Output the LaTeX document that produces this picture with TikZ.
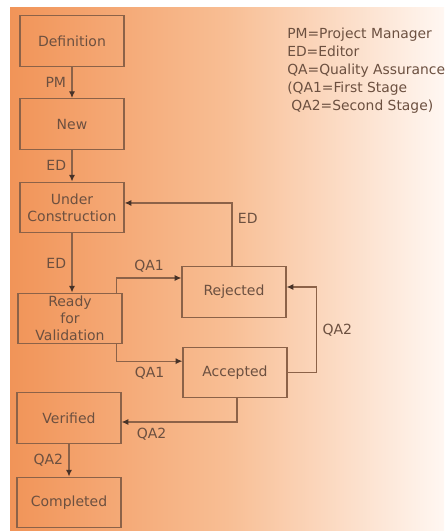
\documentclass[tikz,border=0pt]{standalone}
\usepackage{fontspec}
\setmainfont{DejaVu Sans}
\usetikzlibrary{arrows.meta}
\definecolor{boxline}{RGB}{140,98,72}
\definecolor{tipdark}{RGB}{70,50,40}
\definecolor{labeltext}{RGB}{108,80,64}
\definecolor{bgleft}{RGB}{241,148,88}
\definecolor{bgmid}{RGB}{248,190,148}
\definecolor{bgright}{RGB}{255,247,242}

\begin{document}
\begin{tikzpicture}[x=0.75pt,y=-0.75pt,>={Latex[length=5pt,width=4.5pt,color=tipdark]},
  state/.style={draw=boxline,line width=0.9pt,minimum width=78pt,minimum height=38pt,
    inner xsep=2pt,inner ysep=1pt,align=center,text=labeltext,
    font=\fontsize{10.5}{12.8}\selectfont},
  flow/.style={->,draw=boxline,line width=0.9pt},
  tag/.style={text=labeltext,font=\fontsize{10.5}{12}\selectfont,inner sep=4pt}]
  \clip (0,0) rectangle (444,531);
  \shade[left color=bgleft,right color=bgright,middle color=bgmid] (10,8) rectangle (444,531);

  % states
  \node[state] (def) at (72,41) {Definition};
  \node[state] (new) at (72,124) {New};
  \node[state] (uc) at (72,207.5) {Under\\Construction};
  \node[state] (rfv) at (70,318.5) {Ready\\for\\Validation};
  \node[state] (rej) at (234,292) {Rejected};
  \node[state] (acc) at (235,372.5) {Accepted};
  \node[state] (ver) at (69,418) {Verified};
  \node[state] (com) at (69,502.5) {Completed};

  % legend
  \node[anchor=north west,align=left,text=labeltext,inner sep=0pt,
    font=\fontsize{10.4}{13.5}\selectfont] (key) at (287,28)
    {PM=Project Manager\\ED=Editor\\QA=Quality Assurance\\(QA1=First Stage\\\hspace{0.3em}QA2=Second Stage)};

  % transitions
  \draw[flow] (def) -- node[tag,left] {PM} (new);
  \draw[flow] (new) -- node[tag,left] {ED} (uc);
  \draw[flow] (uc.south) -- node[tag,left] {ED} (uc.south |- rfv.north);
  \draw[flow] ([xshift=-4.5pt]rfv.north east) |- node[tag,above,pos=0.75] {QA1} ([yshift=10.5pt]rej.west);
  \draw[flow] ([xshift=-4.5pt]rfv.south east) |- node[tag,below,pos=0.75] {QA1} ([yshift=8.5pt]acc.west);
  \draw[flow] ([xshift=-1.5pt]rej.north) |- node[tag,right,pos=0.38] {ED} ([yshift=3.4pt]uc.east);
  \draw[flow] (acc.east) -- ++(29,0) |- node[tag,right,pos=0.25] {QA2} ([yshift=3.75pt]rej.east);
  \draw[flow] ([xshift=1.5pt]acc.south) |- node[tag,below,pos=0.87] {QA2} ([yshift=-3pt]ver.east);
  \draw[flow] (ver) -- node[tag,left] {QA2} (com);
\end{tikzpicture}
\end{document}
